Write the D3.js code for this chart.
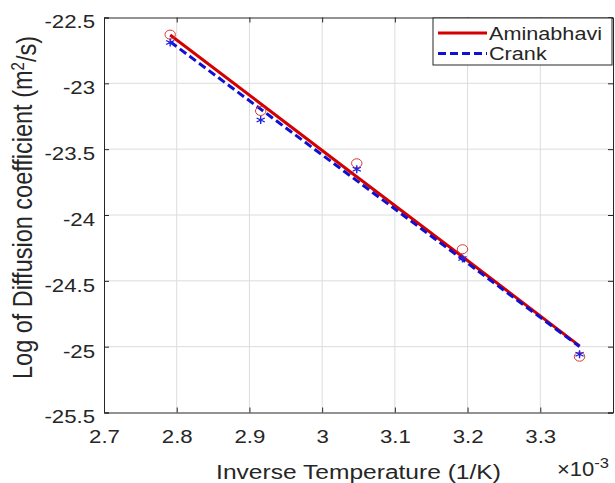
<!DOCTYPE html>
<html>
<head>
<meta charset="utf-8">
<script src="https://cdn.jsdelivr.net/npm/d3@7"></script>
<style>
  body { margin: 0; background: #fff; }
  text { font-family: "Liberation Sans", Arial, sans-serif; fill: #262626; }
</style>
</head>
<body>
<svg width="615" height="483"></svg>
<script>
// inverse temperature (x1e-3, 1/K)
const invT = [2.791, 2.9155, 3.0476, 3.193, 3.354];
// measured points
const aminPts = [-22.63, -23.21, -23.607, -24.26, -25.076];
const crankPts = [-22.69, -23.278, -23.653, -24.33, -25.057];
// fitted lines at the same x values
const aminFit = [-22.633, -23.155, -23.709, -24.317, -24.994];
const crankFit = [-22.684, -23.196, -23.739, -24.337, -25.0];
const xTicks = [2.7, 2.8, 2.9, 3, 3.1, 3.2, 3.3];
const yTicks = [-22.5, -23, -23.5, -24, -24.5, -25, -25.5];

// the picture's text is a bit wider than Arial; stretch horizontally
const SX = 1.17;
function stretch(sel) {
  sel.each(function () {
    const x0 = +this.getAttribute('x') || 0;
    d3.select(this).attr('transform',
      `translate(${x0},0) scale(${SX},1) translate(${-x0},0)`);
  });
}

const svg = d3.select('svg');
const margin = { top: 17.5, right: 2, bottom: 70.5, left: 104 };
const width = 615 - margin.left - margin.right;
const height = 483 - margin.top - margin.bottom;

const g = svg.append('g')
  .attr('transform', `translate(${margin.left}, ${margin.top})`);

const x = d3.scaleLinear().domain([2.7, 3.4]).range([0, width]);
const y = d3.scaleLinear().domain([-25.5, -22.5]).range([height, 0]);

// grid
g.append('g').selectAll('line').data(xTicks.slice(1)).enter().append('line')
  .attr('x1', d => x(d)).attr('x2', d => x(d))
  .attr('y1', 0).attr('y2', height)
  .attr('stroke', '#dcdcdc').attr('stroke-width', 1);
g.append('g').selectAll('line').data(yTicks.slice(1, -1)).enter().append('line')
  .attr('y1', d => y(d)).attr('y2', d => y(d))
  .attr('x1', 0).attr('x2', width)
  .attr('stroke', '#dcdcdc').attr('stroke-width', 1);

// axes
const fmt = d => String(d);
const xAxis = g.append('g')
  .attr('transform', `translate(0, ${height})`)
  .call(d3.axisBottom(x).tickValues(xTicks).tickSize(-5).tickPadding(0).tickFormat(fmt));
const yAxis = g.append('g')
  .call(d3.axisLeft(y).tickValues(yTicks).tickSize(-5).tickPadding(9).tickFormat(fmt));
g.append('g')
  .call(d3.axisTop(x).tickValues(xTicks).tickSize(-5).tickFormat(''));
g.append('g')
  .attr('transform', `translate(${width}, 0)`)
  .call(d3.axisRight(y).tickValues(yTicks).tickSize(-5).tickFormat(''));
g.selectAll('.domain').attr('stroke', '#262626');
g.selectAll('.tick line').attr('stroke', '#262626');
g.selectAll('.tick text').style('font-size', '19px').attr('fill', '#262626');
xAxis.selectAll('.tick text').attr('y', 30.5).attr('dy', null);
yAxis.selectAll('.tick text').attr('dy', '0.55em');
stretch(xAxis.selectAll('.tick text'));
stretch(yAxis.selectAll('.tick text'));

// fit lines
const line = d3.line().x((d, i) => x(invT[i])).y(d => y(d));
g.append('path').datum(aminFit)
  .attr('d', line).attr('fill', 'none')
  .attr('stroke', '#d40000').attr('stroke-width', 3);
g.append('path').datum(crankFit)
  .attr('d', line).attr('fill', 'none')
  .attr('stroke', '#1010d0').attr('stroke-width', 3)
  .attr('stroke-dasharray', '8,4');

// markers
g.append('g').selectAll('ellipse').data(aminPts).enter().append('ellipse')
  .attr('cx', (d, i) => x(invT[i])).attr('cy', d => y(d))
  .attr('rx', 5.2).attr('ry', 4.5).attr('fill', 'none')
  .attr('stroke', '#d83a3a').attr('stroke-width', 1);
const star = d3.symbol().type(d3.symbolAsterisk).size(45);
g.append('g').selectAll('path').data(crankPts).enter().append('path')
  .attr('transform', (d, i) => `translate(${x(invT[i])}, ${y(d)}) scale(${SX},1)`)
  .attr('d', star)
  .attr('fill', 'none').attr('stroke', '#2020e0').attr('stroke-width', 1.2);

// legend
const lgW = 179;
const lg = g.append('g').attr('transform', `translate(${width - lgW - 1}, 0.5)`);
lg.append('rect').attr('x', 0).attr('y', 0)
  .attr('width', lgW).attr('height', 47)
  .attr('fill', '#fff').attr('stroke', '#262626');
const legendItems = [
  { name: 'Aminabhavi', color: '#d40000', dash: null },
  { name: 'Crank', color: '#1010d0', dash: '8,4' }
];
legendItems.forEach((it, i) => {
  const yy = 15 + i * 20.5;
  lg.append('line').attr('x1', 5).attr('x2', 54).attr('y1', yy).attr('y2', yy)
    .attr('stroke', it.color).attr('stroke-width', 3)
    .attr('stroke-dasharray', it.dash);
  const t = lg.append('text').attr('x', 56).attr('y', yy).attr('dy', '0.36em')
    .style('font-size', '18.5px').text(it.name);
  stretch(t);
});

// axis labels
const xl = svg.append('text')
  .attr('x', margin.left + width / 2).attr('y', 479)
  .attr('text-anchor', 'middle').style('font-size', '21px')
  .text('Inverse Temperature (1/K)');
stretch(xl);
const yl = svg.append('text')
  .attr('transform', `translate(32, 207.5) rotate(-90) scale(1, ${SX})`)
  .attr('text-anchor', 'middle').style('font-size', '23.5px');
yl.append('tspan').text('Log of Diffusion coefficient (m');
yl.append('tspan').attr('dy', '-0.45em').style('font-size', '15px').text('2');
yl.append('tspan').attr('dy', '0.45em').text('/s)');

const ex = svg.append('text').attr('x', 557).attr('y', 476).style('font-size', '20px');
ex.append('tspan').text('\u00d710');
ex.append('tspan').attr('dy', '-0.55em').style('font-size', '15px').text('-3');
ex.attr('transform', `translate(557,0) scale(1.1,1) translate(-557,0)`);
</script>
</body>
</html>
